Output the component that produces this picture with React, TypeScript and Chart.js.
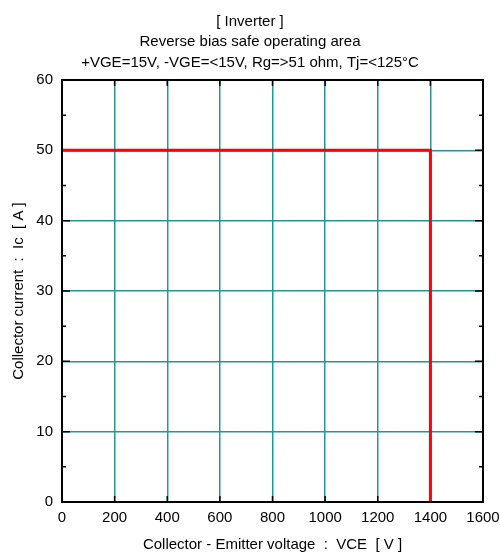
import React, { useEffect, useRef } from "react";
import { Chart, registerables } from "chart.js";

Chart.register(...registerables);

const titleLines = [
  "[ Inverter ]",
  "Reverse bias safe operating area",
  "+VGE=15V, -VGE=<15V, Rg=>51 ohm, Tj=<125°C",
];
const xAxisTitle = "Collector - Emitter voltage  :  VCE  [ V ]";
const yAxisTitle = "Collector current  :  Ic  [ A ]";
const xTicks = [0, 200, 400, 600, 800, 1000, 1200, 1400, 1600];
const yTicks = [0, 10, 20, 30, 40, 50, 60];
const vceValues = [0, 1400, 1400];
const icValues = [50, 50, 0];

const FONT = "'Liberation Sans', Arial, Helvetica, sans-serif";
const GRID = "#2a9494";

const framePlugin = {
  id: "frameTicks",
  beforeDatasetsDraw(chart: any) {
    const { ctx, chartArea, scales } = chart;
    const { left, right, top, bottom } = chartArea;
    const xs = scales.x;
    const ys = scales.y;
    ctx.save();
    ctx.strokeStyle = "#000";
    ctx.lineWidth = 1.5;
    ctx.beginPath();
    const xMajor = 6;
    const yMajor = 8;
    const yMinor = 4;
    for (let i = 0; i < xTicks.length; i++) {
      const px = xs.getPixelForValue(xTicks[i]);
      ctx.moveTo(px, bottom);
      ctx.lineTo(px, bottom - xMajor);
      ctx.moveTo(px, top);
      ctx.lineTo(px, top + xMajor);
    }
    for (let i = 0; i < yTicks.length; i++) {
      const py = ys.getPixelForValue(yTicks[i]);
      ctx.moveTo(left, py);
      ctx.lineTo(left + yMajor, py);
      ctx.moveTo(right, py);
      ctx.lineTo(right - yMajor, py);
      if (i < yTicks.length - 1) {
        const m = ys.getPixelForValue((yTicks[i] + yTicks[i + 1]) / 2);
        ctx.moveTo(left, m);
        ctx.lineTo(left + yMinor, m);
        ctx.moveTo(right, m);
        ctx.lineTo(right - yMinor, m);
      }
    }
    ctx.stroke();
    ctx.restore();
  },
  afterDraw(chart: any) {
    const { ctx, chartArea } = chart;
    const { left, right, top, bottom } = chartArea;
    ctx.save();
    ctx.strokeStyle = "#000";
    ctx.lineWidth = 2;
    ctx.strokeRect(left, top, right - left, bottom - top);
    ctx.restore();
  },
};

export default function App() {
  const ref = useRef<HTMLCanvasElement | null>(null);
  useEffect(() => {
    document.body.style.margin = "0";
    const canvas = ref.current;
    if (!canvas) return;
    Chart.defaults.font.family = FONT;
    Chart.defaults.color = "#000";
    const chart = new Chart(canvas, {
      type: "line",
      data: {
        datasets: [
          {
            data: vceValues.map((v, i) => ({ x: v, y: icValues[i] })),
            borderColor: "#ff0000",
            borderWidth: 3,
            pointRadius: 0,
            fill: false,
            tension: 0,
          },
        ],
      },
      options: {
        animation: false,
        responsive: false,
        devicePixelRatio: 1,
        layout: { padding: 0 },
        plugins: {
          legend: { display: false },
          tooltip: { enabled: false },
          title: {
            display: true,
            text: titleLines,
            color: "#000",
            font: { size: 15, weight: "normal", lineHeight: "20.5px", family: FONT },
            padding: { top: 11.5, bottom: 7 },
          },
        },
        scales: {
          x: {
            type: "linear",
            min: 0,
            max: 1600,
            afterFit: (s: any) => {
              s.height = 50;
              s.paddingLeft = 0;
              s.paddingRight = 0;
            },
            afterBuildTicks: (s: any) => {
              s.ticks = xTicks.map((v) => ({ value: v }));
            },
            ticks: {
              font: { size: 15 },
              padding: 7,
              color: "#000",
              maxRotation: 0,
              autoSkip: false,
              callback: (v: any) => String(v),
            },
            grid: { color: GRID, lineWidth: 1.5, drawTicks: false },
            border: { display: false },
            title: {
              display: true,
              text: xAxisTitle,
              color: "#000",
              font: { size: 15, lineHeight: 1 },
              padding: { top: 0, bottom: 0 },
            },
          },
          y: {
            type: "linear",
            min: 0,
            max: 60,
            afterFit: (s: any) => {
              s.width = 62;
              s.paddingTop = 0;
              s.paddingBottom = 0;
            },
            afterBuildTicks: (s: any) => {
              s.ticks = yTicks.map((v) => ({ value: v }));
            },
            ticks: { font: { size: 15 }, padding: 9, color: "#000", callback: (v: any) => String(v) },
            grid: { color: GRID, lineWidth: 1.5, drawTicks: false },
            border: { display: false },
            title: {
              display: true,
              text: yAxisTitle,
              color: "#000",
              font: { size: 15, lineHeight: 1 },
              padding: { top: 11, bottom: 0 },
            },
          },
          yRight: {
            type: "linear",
            position: "right",
            display: true,
            min: 0,
            max: 60,
            afterFit: (s: any) => {
              s.width = 17;
              s.paddingTop = 0;
              s.paddingBottom = 0;
            },
            ticks: { display: false },
            grid: { display: false, drawTicks: false },
            border: { display: false },
          },
        },
      },
      plugins: [framePlugin],
    });
    return () => chart.destroy();
  }, []);
  return <canvas ref={ref} width={500} height={552} style={{ display: "block" }} />;
}
